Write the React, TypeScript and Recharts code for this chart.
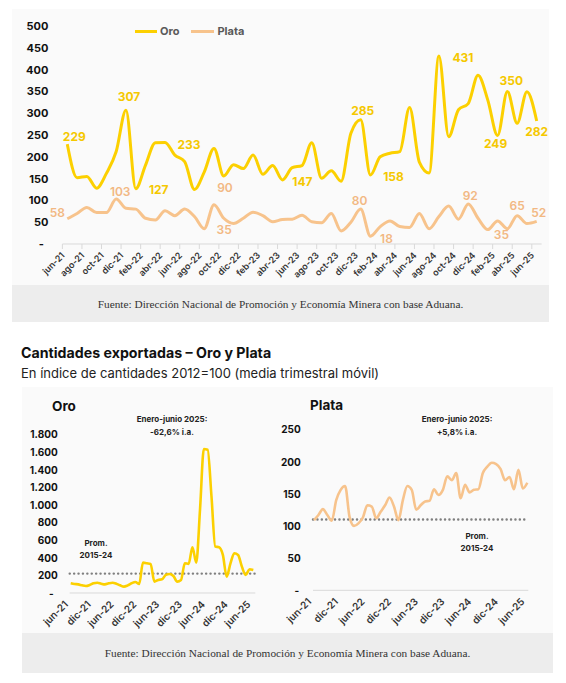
import React from 'react';
import { LineChart, Line, XAxis, YAxis, ReferenceLine, LabelList, Legend } from 'recharts';

// meses (jun-21 a jun-25)
const months = [
  'jun-21', 'jul-21', 'ago-21', 'sep-21', 'oct-21', 'nov-21', 'dic-21',
  'ene-22', 'feb-22', 'mar-22', 'abr-22', 'may-22', 'jun-22', 'jul-22', 'ago-22', 'sep-22', 'oct-22', 'nov-22', 'dic-22',
  'ene-23', 'feb-23', 'mar-23', 'abr-23', 'may-23', 'jun-23', 'jul-23', 'ago-23', 'sep-23', 'oct-23', 'nov-23', 'dic-23',
  'ene-24', 'feb-24', 'mar-24', 'abr-24', 'may-24', 'jun-24', 'jul-24', 'ago-24', 'sep-24', 'oct-24', 'nov-24', 'dic-24',
  'ene-25', 'feb-25', 'mar-25', 'abr-25', 'may-25', 'jun-25',
];

// exportaciones (gráfico superior)
const exportOro = [
  229, 152, 155, 128, 162, 212, 307, 127, 181, 232,
  233, 204, 189, 125, 165, 219, 156, 182, 173, 204,
  160, 180, 147, 175, 180, 232, 151, 168, 144, 254,
  285, 158, 200, 208, 212, 313, 188, 163, 431, 246,
  308, 322, 387, 330, 249, 350, 277, 349, 282,
];
const exportPlata = [
  58, 70, 84, 72, 72, 103, 82, 80, 59, 55,
  76, 65, 80, 63, 35, 90, 59, 47, 59, 73,
  65, 51, 56, 57, 66, 51, 49, 70, 30, 50,
  80, 18, 40, 53, 40, 38, 70, 35, 63, 87,
  57, 92, 59, 33, 53, 35, 65, 47, 52,
];
const topTicks = [0, 50, 100, 150, 200, 250, 300, 350, 400, 450, 500];

// índice de cantidades 2012=100
const indiceOro = [
  110, 102, 98, 87, 80, 91, 110, 117, 106, 98,
  110, 117, 106, 87, 72, 87, 110, 125, 102, 345,
  337, 330, 129, 148, 155, 205, 216, 193, 129, 148,
  337, 330, 519, 345, 950, 1633, 1625, 1100, 527, 519,
  432, 186, 337, 451, 432, 299, 205, 269, 261,
];
const indicePlata = [
  109, 117, 126, 117, 108, 140, 156, 162, 114, 100,
  104, 113, 132, 130, 112, 122, 132, 144, 130, 109,
  140, 162, 156, 125, 132, 138, 139, 157, 148, 156,
  177, 171, 182, 143, 164, 152, 156, 157, 182, 192,
  198, 196, 188, 171, 176, 157, 187, 158, 167,
];
const oroTicks = [0, 200, 400, 600, 800, 1000, 1200, 1400, 1600, 1800];
const plataTicks = [0, 50, 100, 150, 200, 250];
const promOro = 220;
const promPlata = 110;

const topData = months.map((m, i) => ({ month: m, oro: exportOro[i], plata: exportPlata[i] }));
const oroData = months.map((m, i) => ({ month: m, v: indiceOro[i] }));
const plataData = months.map((m, i) => ({ month: m, v: indicePlata[i] }));

const ORO = '#FCD000';
const PLATA = '#F7C38C';
const ORO_TXT = '#F5C800';
const PLATA_TXT = '#F2B883';
const FONT = "Inter, 'Noto Sans', sans-serif";

// label offsets [dx, dy] relative to the point, by index
const oroLabelPos: Record<number, [number, number]> = {
  0: [7, -8], 6: [3, -14], 7: [23, 1], 10: [24, 2], 22: [20, 2], 30: [2, -9],
  31: [23, 1], 38: [24, 1], 44: [-2, 8], 45: [4, -11], 48: [0, 10],
};
const plataLabelPos: Record<number, [number, number]> = {
  0: [-10, -6], 5: [4, -8], 14: [20, 1], 15: [11, -17], 30: [-1, -9],
  31: [16, 2], 41: [2, -8], 45: [-6, 6], 46: [0, -10], 48: [2, -9],
};

const fmt = (v: number) => String(v).replace(/\B(?=(\d{3})+(?!\d))/g, '.');

const makeLabel = (pos: Record<number, [number, number]>, color: string, weight: number) => (props: any) => {
  const { index, value } = props;
  const p = pos[index];
  if (!p) return null;
  const x = props.x ?? props.viewBox?.x;
  const y = props.y ?? props.viewBox?.y;
  return (
    <text x={x + p[0]} y={y + p[1]} textAnchor="middle" dominantBaseline="central"
      fill={color} fontSize={12} fontWeight={weight} fontFamily={FONT}>
      {value}
    </text>
  );
};

const yTick = (size: number, dashShift: number) => (props: any) => {
  const { x, y, payload } = props;
  const zero = payload.value === 0;
  return (
    <text x={zero ? x - dashShift : x} y={y} textAnchor="end" dominantBaseline="central"
      fontSize={size} fontWeight={700} fill="#111" fontFamily={FONT}>
      {zero ? '-' : fmt(payload.value)}
    </text>
  );
};

const xTick = (size: number, halfStep: number) => (props: any) => {
  const { x, y, payload } = props;
  return (
    <g>
      {halfStep > 0 && <line x1={x - halfStep} x2={x - halfStep} y1={y} y2={y + 5} stroke="#D9D9D9" />}
      <text transform={`translate(${x - 2},${y + 12}) rotate(-45)`} textAnchor="end"
        fontSize={size} fontWeight={600} fill="#333" fontFamily={FONT}>
        {payload.value}
      </text>
    </g>
  );
};

const TopLegend = () => (
  <div style={{ display: 'flex', alignItems: 'center', fontFamily: FONT, fontSize: 11, fontWeight: 700, color: '#595959' }}>
    <span style={{ width: 22, height: 3, background: ORO, display: 'inline-block', marginRight: 3 }} />
    <span style={{ marginRight: 12 }}>Oro</span>
    <span style={{ width: 23, height: 3, background: PLATA, display: 'inline-block', marginRight: 3 }} />
    <span>Plata</span>
  </div>
);

const abs = (left: number, top: number, extra: React.CSSProperties = {}): React.CSSProperties => ({
  position: 'absolute', left, top, ...extra,
});

const note: React.CSSProperties = {
  fontFamily: FONT, fontSize: 8, fontWeight: 700, color: '#222', textAlign: 'center', lineHeight: '13.4px',
};

const fuente = 'Fuente: Dirección Nacional de Promoción y Economía Minera con base Aduana.';

export default function App() {
  return (
    <div style={{ position: 'absolute', left: 0, top: 0, width: 566, height: 683, background: '#fff', overflow: 'hidden' }}>
      {/* top panel */}
      <div style={abs(12, 9, { width: 537, height: 276, background: '#FAFAFA' })} />
      <div style={abs(12, 285, {
        width: 537, height: 37, background: '#EDEDED', display: 'flex', alignItems: 'center', justifyContent: 'center',
        fontFamily: "'Liberation Serif', serif", fontSize: 11.3, color: '#333', whiteSpace: 'nowrap',
      })}>{fuente}</div>

      <div style={abs(0, 0)}>
        <LineChart width={566} height={285} data={topData} margin={{ top: 26, right: 24.4, bottom: 0, left: 0 }}>
          <XAxis dataKey="month" interval={1} padding={{ left: 4.9, right: 4.9 }} height={41}
            tickSize={0} tickMargin={0} stroke="#D9D9D9" tick={xTick(9, 4.9)} />
          <YAxis domain={[0, 500]} ticks={topTicks} interval={0} width={62.4} axisLine={false} tickLine={false}
            tickSize={0} tickMargin={14} tick={yTick(11, 4.6)} />
          <Legend verticalAlign="middle" align="center" content={() => <TopLegend />}
            wrapperStyle={{ top: 24, left: 135, width: 'auto' }} />
          <Line type="monotone" dataKey="oro" name="Oro" stroke={ORO} strokeWidth={3} dot={false} isAnimationActive={false}>
            <LabelList dataKey="oro" content={makeLabel(oroLabelPos, ORO_TXT, 700)} />
          </Line>
          <Line type="monotone" dataKey="plata" name="Plata" stroke={PLATA} strokeWidth={3} dot={false} isAnimationActive={false}>
            <LabelList dataKey="plata" content={makeLabel(plataLabelPos, PLATA_TXT, 600)} />
          </Line>
        </LineChart>
      </div>

      {/* titles */}
      <div style={abs(21, 344, { fontFamily: FONT, fontSize: 14.2, fontWeight: 700, color: '#111', whiteSpace: 'nowrap' })}>
        Cantidades exportadas – Oro y Plata
      </div>
      <div style={abs(21, 364.5, { fontFamily: FONT, fontSize: 13, color: '#222', whiteSpace: 'nowrap' })}>
        En índice de cantidades 2012=100 (media trimestral móvil)
      </div>

      {/* bottom panel */}
      <div style={abs(22, 387, { width: 531, height: 246, background: '#FAFAFA' })} />
      <div style={abs(22, 633, {
        width: 531, height: 40, background: '#EDEDED', display: 'flex', alignItems: 'center', justifyContent: 'center',
        fontFamily: "'Liberation Serif', serif", fontSize: 11.3, color: '#333', whiteSpace: 'nowrap',
      })}>{fuente}</div>

      <div style={abs(0, 420)}>
        <LineChart width={290} height={213} data={oroData} margin={{ top: 14.3, right: 34.7, bottom: 0, left: 0 }}>
          <XAxis dataKey="month" interval={5} padding={{ left: 1, right: 2 }} height={40}
            tickSize={0} tickMargin={0} stroke="#D9D9D9" tick={xTick(10, 0)} />
          <YAxis domain={[0, 1800]} ticks={oroTicks} interval={0} width={69.7} axisLine={false} tickLine={false}
            tickSize={0} tickMargin={12} tick={yTick(10, 4)} />
          <ReferenceLine y={promOro} stroke="#7F7F7F" strokeWidth={2.4} strokeDasharray="0.1 4.3" strokeLinecap="round" />
          <Line type="monotone" dataKey="v" stroke={ORO} strokeWidth={2.6} dot={false} isAnimationActive={false} />
        </LineChart>
      </div>

      <div style={abs(280, 420)}>
        <LineChart width={286} height={213} data={plataData} margin={{ top: 9.3, right: 37.7, bottom: 0, left: 0 }}>
          <XAxis dataKey="month" interval={5} padding={{ left: 1, right: 1 }} height={42.7}
            tickSize={0} tickMargin={0} stroke="#D9D9D9" tick={xTick(10, 0)} />
          <YAxis domain={[0, 250]} ticks={plataTicks} interval={0} width={33} axisLine={false} tickLine={false}
            tickSize={0} tickMargin={12.3} tick={yTick(10, 1.4)} />
          <ReferenceLine y={promPlata} stroke="#7F7F7F" strokeWidth={2.4} strokeDasharray="0.1 4.3" strokeLinecap="round" />
          <Line type="monotone" dataKey="v" stroke={PLATA} strokeWidth={2.6} dot={false} isAnimationActive={false} />
        </LineChart>
      </div>

      {/* bottom annotations */}
      <div style={abs(52, 398, { fontFamily: FONT, fontSize: 13.5, fontWeight: 700, color: '#111' })}>Oro</div>
      <div style={abs(112, 412.6, { ...note, width: 120 })}>Enero-junio 2025:<br />-62,6% i.a.</div>
      <div style={abs(56, 538.3, { ...note, width: 80, lineHeight: '11.7px' })}>Prom.<br />2015-24</div>

      <div style={abs(310, 396.5, { fontFamily: FONT, fontSize: 13.5, fontWeight: 700, color: '#111' })}>Plata</div>
      <div style={abs(397, 412.6, { ...note, width: 120 })}>Enero-junio 2025:<br />+5,8% i.a.</div>
      <div style={abs(437, 529.8, { ...note, width: 80, lineHeight: '12px' })}>Prom.<br />2015-24</div>
    </div>
  );
}
